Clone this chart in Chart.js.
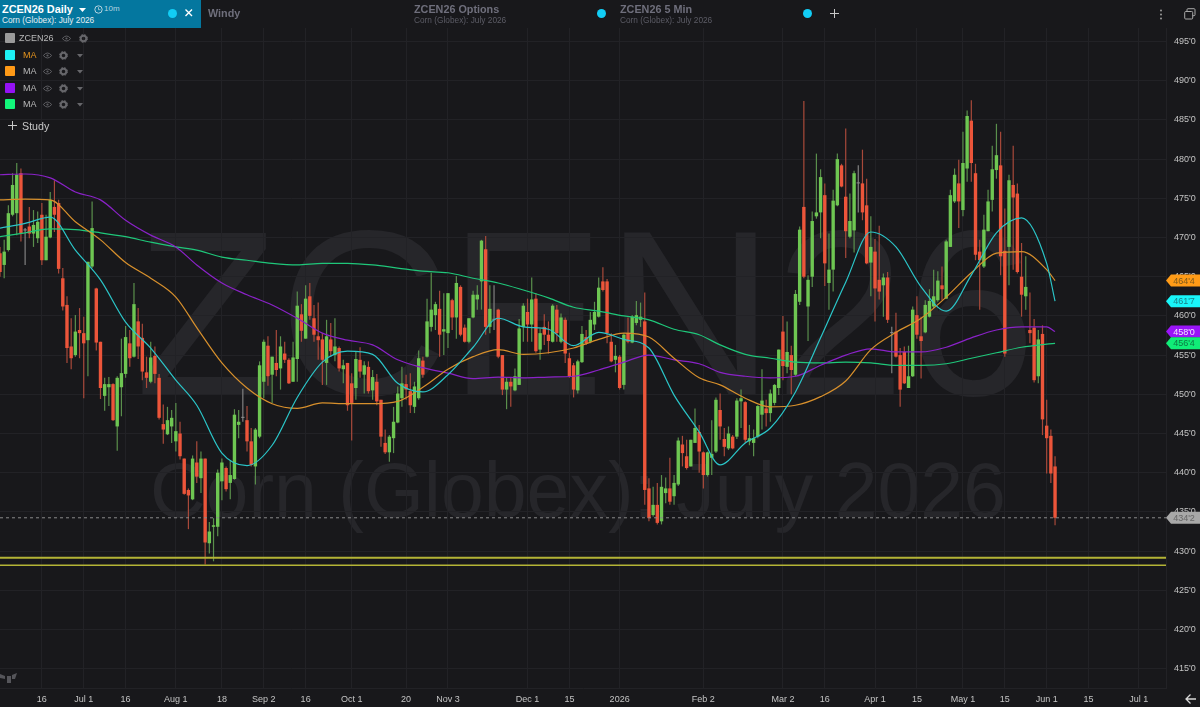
<!DOCTYPE html>
<html>
<head>
<meta charset="utf-8">
<title>ZCEN26 Daily</title>
<script src="https://cdn.jsdelivr.net/npm/chart.js@4/dist/chart.umd.min.js"></script>
<style>
	html, body { margin: 0; padding: 0; background: #18181b; overflow: hidden; }
	body, div { font-family: "Liberation Sans", Arial, sans-serif; }
	#wrap { position: relative; width: 1200px; height: 707px; overflow: hidden; }
	#wrap > canvas { position: absolute; left: 0; top: 0; z-index: 2; }
	.mark { position: absolute; color: #26262a; white-space: nowrap; line-height: 1; z-index: 1; }
	.abs { position: absolute; white-space: nowrap; z-index: 3; line-height: 1; }
	#tab { position: absolute; left: 0; top: 0; width: 201px; height: 28px; background: #04779f; z-index: 3; }
	.dot { position: absolute; width: 9px; height: 9px; border-radius: 50%; background: #12cdf5; z-index: 4; }
	.title { font-size: 10.8px; font-weight: bold; color: #6f6f7c; }
	.sub { font-size: 8.3px; color: #5c5c66; }
	.row { font-size: 9px; color: #b9b9b9; }
	.swatch { position: absolute; left: 5px; width: 10px; height: 10px; border-radius: 1px; z-index: 3; }
	svg.abs { overflow: visible; }
</style>
</head>
<body>
<div id="wrap">
	<div class="mark" style="left:135px;top:196px;font-size:235px">ZCEN26</div>
	<div class="mark" style="left:150px;top:452px;font-size:77px">Corn (Globex): July 2026</div>

	<div id="tab"></div>
	<div class="abs" style="left:2px;top:4px;font-size:10.9px;font-weight:bold;color:#fff">ZCEN26 Daily</div>
	<svg class="abs" style="left:79px;top:8px" width="8" height="5"><path d="M0 0H7L3.5 4Z" fill="#fff"/></svg>
	<svg class="abs" style="left:94px;top:5px" width="9" height="9"><circle cx="4.5" cy="4.5" r="3.7" fill="none" stroke="#b6d4e0"/><path d="M4.5 2.2V4.7H6.5" fill="none" stroke="#b6d4e0" stroke-width=".8"/></svg>
	<div class="abs" style="left:104px;top:5px;font-size:8px;color:#b6d4e0">10m</div>
	<div class="abs" style="left:2px;top:16px;font-size:8.3px;color:#e4eef2">Corn (Globex): July 2026</div>
	<div class="dot" style="left:168px;top:9px"></div>
	<svg class="abs" style="left:185px;top:9px" width="8" height="8"><path d="M.5 .5L7 7M7 .5L.5 7" stroke="#fff" stroke-width="1.4"/></svg>

	<div class="abs title" style="left:208px;top:8px">Windy</div>
	<div class="abs title" style="left:414px;top:4px">ZCEN26 Options</div>
	<div class="abs sub" style="left:414px;top:16px">Corn (Globex): July 2026</div>
	<div class="dot" style="left:597px;top:9px"></div>
	<div class="abs title" style="left:620px;top:4px">ZCEN26 5 Min</div>
	<div class="abs sub" style="left:620px;top:16px">Corn (Globex): July 2026</div>
	<div class="dot" style="left:803px;top:9px"></div>
	<svg class="abs" style="left:830px;top:9px" width="9" height="9"><path d="M4.5 0V9M0 4.5H9" stroke="#c8c8c8"/></svg>

	<svg class="abs" style="left:1159px;top:9px" width="4" height="11"><circle cx="2" cy="1.5" r="1" fill="#9a9a9a"/><circle cx="2" cy="5.5" r="1" fill="#9a9a9a"/><circle cx="2" cy="9.5" r="1" fill="#9a9a9a"/></svg>
	<svg class="abs" style="left:1184px;top:8px" width="12" height="12"><rect x="3" y=".7" width="8" height="7" rx="1" fill="none" stroke="#a8a8a8"/><rect x=".7" y="3.5" width="8" height="7.5" rx="1" fill="#18181b" stroke="#a8a8a8"/></svg>
	<svg class="abs" style="left:1185px;top:693px" width="12" height="12"><path d="M11 6H1M5.5 1.5L1 6L5.5 10.5" fill="none" stroke="#d8d8d8" stroke-width="1.3"/></svg>
	<svg class="abs" style="left:0;top:671px" width="18" height="14"><path d="M0 3L5 5V8L0 7ZM7 5H11V12H7ZM12 4L17 2L15 8H12Z" fill="#55555a"/></svg>

	<div class="abs" style="left:8px;top:121px;font-size:10.7px;color:#c8c8c8"><svg width="9" height="9" style="margin-right:5px"><path d="M4.5 0V9M0 4.5H9" stroke="#c8c8c8"/></svg>Study</div>
	<div id="legend"></div>

	<canvas id="chart"></canvas>
</div>

<script>
const tickIdx = [10, 20, 30, 42, 53, 63, 73, 84, 97, 107, 126, 136, 148, 168, 187, 197, 209, 219, 230, 240, 250, 260, 272];
const tickLabels = ['16', 'Jul 1', '16', 'Aug 1', '18', 'Sep 2', '16', 'Oct 1', '20', 'Nov 3', 'Dec 1', '15', '2026', 'Feb 2', 'Mar 2', '16', 'Apr 1', '15', 'May 1', '15', 'Jun 1', '15', 'Jul 1'];
const priceTicks = [495, 490, 485, 480, 475, 470, 465, 460, 455, 450, 445, 440, 435, 430, 425, 420, 415];
const priceLabels = ["495'0", "490'0", "485'0", "480'0", "475'0", "470'0", "465'0", "460'0", "455'0", "450'0", "445'0", "440'0", "435'0", "430'0", "425'0", "420'0", "415'0"];

// daily candles, one entry per session
const opens = [
	468.0, 466.5, 468.4, 472.9, 473.1, 478.2, 470.9, 471.4, 470.5, 469.9,
	472.9, 467.1, 470.0, 473.9, 474.4, 464.8, 461.4, 456.1, 455.0, 458.2,
	457.8, 456.9, 466.3, 463.5, 456.7, 449.8, 450.9, 451.3, 445.9, 450.9,
	452.6, 456.5, 454.8, 459.3, 457.2, 452.8, 451.6, 454.9, 452.1, 446.2,
	444.9, 445.9, 444.0, 445.0, 441.8, 437.8, 436.6, 441.3, 439.3, 441.8,
	431.0, 433.1, 433.1, 438.9, 440.6, 438.7, 439.2, 446.1, 447.0, 446.7,
	444.0, 440.8, 444.6, 451.6, 456.2, 452.5, 454.0, 453.3, 455.2, 454.4,
	451.6, 454.5,
	460.2, 457.1, 462.5, 459.7, 457.4, 457.0, 454.0, 457.0, 455.0, 455.9,
	453.2, 454.0, 451.4, 450.8, 454.4, 452.5, 453.5, 450.5, 451.6, 449.3,
	443.8, 442.6, 444.4, 446.4, 449.5, 451.3, 450.4, 448.4, 449.5, 454.3,
	454.8, 458.6, 460.1, 460.9, 458.0, 457.8, 462.0, 459.8, 463.7, 458.5,
	456.7, 459.8, 462.1, 464.4, 468.5, 458.6, 459.5, 460.8, 455.0, 450.6,
	451.6, 450.5, 451.2, 458.6, 460.5, 458.9, 462.2, 455.7, 458.6, 457.6,
	456.7, 460.8, 456.7, 459.5, 454.6, 453.7, 450.5,
	454.1, 457.3, 456.7, 458.9, 459.9, 464.4, 464.4, 456.7, 454.4, 454.8,
	451.2, 457.8, 456.6, 459.1, 459.5, 459.3, 438.0, 434.6, 435.9, 433.8,
	437.4, 438.0, 437.0, 438.5, 443.6, 442.1, 440.8, 443.8, 445.2, 442.6,
	439.7, 441.9, 442.7, 448.0, 444.3, 443.1, 444.6, 444.6, 449.1, 449.0,
	444.0, 443.8, 444.6, 447.4, 448.2, 447.6, 448.9, 450.8, 458.0, 453.5,
	455.0, 452.5, 461.8, 473.9, 461.2, 465.0, 472.7, 473.2, 475.4, 464.2,
	465.9, 474.1, 479.2, 475.2, 470.1, 470.9, 476.9, 476.9, 474.1, 466.8,
	468.2, 464.6, 463.9, 464.9, 457.8, 458.0, 455.0, 455.4, 450.8, 452.3,
	460.1, 457.4, 457.9, 459.9, 461.2, 462.0, 463.9, 462.2, 468.8, 474.6,
	476.9, 473.5, 478.8, 484.9, 478.2, 468.2, 466.3, 470.8, 474.8, 478.6,
	479.2, 468.3, 468.8, 476.7, 475.6, 465.0, 462.5, 458.2, 458.5, 452.3,
	457.7, 446.0, 444.7, 440.8,
];
const closes = [
	465.6, 468.2, 473.1, 476.7, 478.0, 470.5, 470.9, 470.5, 471.6, 472.0,
	467.1, 470.1, 474.8, 472.9, 466.0, 461.2, 455.9, 454.6, 458.0, 457.8,
	456.5, 466.9, 471.2, 456.6, 450.8, 451.3, 451.3, 446.7, 452.1, 452.7,
	457.3, 454.6, 461.5, 456.1, 452.9, 452.1, 454.7, 452.6, 447.0, 445.5,
	446.7, 447.0, 445.3, 442.1, 437.3, 437.1, 441.8, 439.5, 441.8, 431.1,
	432.5, 433.3, 440.0, 441.3, 437.9, 439.7, 447.4, 446.5, 447.0, 444.0,
	441.0, 445.5, 453.7, 456.7, 452.3, 454.8, 453.1, 456.1, 454.4, 451.4,
	454.7, 461.3,
	458.1, 462.2, 460.0, 457.6, 456.9, 454.4, 457.4, 455.5, 456.1, 453.3,
	453.7, 448.6, 448.9, 454.5, 452.9, 453.7, 450.4, 452.2, 449.1, 444.6,
	442.6, 444.6, 446.5, 450.1, 451.4, 450.6, 448.6, 451.0, 454.6, 452.5,
	459.3, 460.8, 461.5, 457.6, 458.3, 462.9, 459.8, 464.2, 457.6, 456.7,
	459.7, 462.7, 462.7, 469.6, 458.6, 460.9, 459.5, 454.8, 450.6, 451.6,
	451.0, 452.3, 458.4, 461.3, 458.9, 462.1, 455.5, 457.8, 457.6, 456.8,
	461.3, 457.8, 459.8, 455.2, 452.3, 450.6, 454.2,
	457.7, 456.5, 459.5, 460.5, 463.6, 463.3, 457.8, 454.2, 454.9, 450.8,
	457.6, 456.7, 459.9, 460.1, 459.9, 437.8, 434.2, 435.9, 433.6, 438.2,
	438.0, 436.3, 438.7, 444.1, 442.5, 440.6, 444.2, 445.7, 442.7, 439.7,
	442.6, 442.4, 449.3, 445.9, 443.3, 445.0, 443.1, 449.2, 449.5, 444.2,
	444.4, 444.4, 448.5, 449.2, 447.6, 450.1, 451.2, 455.7, 453.6, 455.4,
	453.1, 462.8, 471.0, 465.0, 464.6, 472.1, 473.2, 477.7, 466.7, 465.9,
	474.7, 480.0, 476.5, 470.8, 472.1, 478.2, 476.9, 473.2, 466.7, 468.8,
	463.5, 463.1, 464.9, 459.5, 457.8, 454.8, 450.6, 451.4, 452.3, 460.8,
	457.6, 456.8, 461.4, 461.9, 462.5, 464.5, 463.4, 469.5, 475.4, 478.0,
	474.6, 479.5, 485.5, 479.5, 467.8, 467.1, 471.0, 474.6, 478.7, 480.5,
	467.6, 455.2, 477.3, 475.1, 465.6, 462.7, 463.7, 457.8, 451.8, 457.0,
	446.8, 444.4, 439.9, 434.25,
];
const highs = [
	468.8, 469.7, 474.1, 478.2, 479.5, 478.8, 471.2, 473.9, 473.5, 473.3,
	474.4, 472.9, 475.8, 477.3, 474.8, 466.1, 462.5, 459.7, 460.1, 461.0,
	459.9, 466.9, 474.6, 463.6, 456.7, 452.1, 452.2, 451.4, 452.3, 457.1,
	458.7, 458.2, 464.2, 461.0, 459.0, 454.8, 456.7, 456.1, 452.6, 448.7,
	448.4, 448.0, 448.9, 446.5, 441.8, 438.0, 442.2, 444.0, 442.7, 441.8,
	433.7, 434.2, 440.4, 441.8, 440.8, 441.6, 448.1, 448.0, 450.7, 448.5,
	445.7, 445.7, 454.2, 457.0, 457.4, 454.8, 458.2, 457.4, 456.7, 454.6,
	456.7, 463.1,
	461.5, 463.9, 464.2, 461.4, 461.7, 457.8, 459.5, 459.1, 459.7, 456.1,
	454.4, 454.0, 452.7, 455.4, 456.0, 454.2, 454.2, 453.1, 452.6, 449.3,
	445.5, 444.8, 448.4, 451.0, 453.5, 452.5, 452.7, 451.6, 455.6, 454.8,
	462.2, 465.5, 461.8, 463.2, 462.9, 462.9, 462.2, 465.1, 463.9, 458.9,
	459.7, 463.2, 463.9, 469.7, 470.2, 463.9, 463.9, 460.9, 455.0, 452.1,
	452.1, 453.3, 459.6, 461.6, 462.2, 464.9, 462.9, 458.4, 460.2, 459.3,
	461.5, 461.4, 460.3, 459.8, 455.3, 454.0, 454.4,
	458.7, 458.2, 460.5, 461.8, 464.9, 466.2, 464.7, 457.8, 456.3, 455.0,
	457.8, 459.8, 460.1, 461.9, 461.7, 463.0, 439.3, 438.2, 438.7, 439.7,
	439.4, 441.9, 439.7, 444.5, 444.7, 444.2, 444.2, 448.2, 446.1, 442.7,
	442.7, 446.7, 449.6, 450.1, 445.7, 445.9, 444.8, 449.5, 450.6, 449.1,
	446.1, 445.5, 448.6, 453.2, 449.3, 450.6, 451.3, 455.7, 460.0, 459.3,
	456.2, 463.3, 471.4, 487.4, 465.2, 473.3, 480.7, 478.7, 476.9, 470.5,
	476.1, 480.7, 479.4, 483.9, 475.6, 478.5, 479.2, 481.2, 477.5, 472.7,
	469.8, 471.5, 465.4, 465.6, 458.6, 460.4, 455.9, 456.1, 456.2, 461.2,
	462.5, 459.9, 462.0, 463.4, 465.9, 465.7, 466.3, 469.7, 476.1, 478.8,
	479.9, 483.5, 486.2, 487.5, 479.4, 469.7, 472.9, 476.1, 481.7, 484.5,
	483.5, 473.7, 478.0, 481.7, 476.9, 469.3, 467.6, 463.0, 459.6, 458.2,
	458.8, 449.3, 445.5, 442.1,
];
const lows = [
	465.0, 464.8, 468.2, 472.7, 470.3, 469.5, 466.5, 469.9, 468.8, 469.3,
	466.5, 467.1, 469.9, 470.7, 465.4, 460.7, 454.0, 453.2, 454.8, 454.6,
	449.5, 452.3, 466.1, 455.6, 449.4, 447.9, 448.5, 446.6, 442.8, 447.2,
	452.1, 453.5, 454.7, 454.5, 451.8, 450.8, 451.4, 451.4, 446.8, 443.7,
	444.8, 443.8, 442.7, 441.7, 437.2, 432.8, 436.5, 438.7, 437.4, 428.3,
	429.7, 428.7, 431.9, 436.5, 437.6, 436.6, 439.1, 444.4, 446.5, 442.7,
	440.8, 438.5, 444.4, 449.5, 451.1, 448.9, 452.3, 450.6, 454.0, 451.3,
	451.6, 451.6,
	456.7, 457.1, 459.5, 456.7, 454.4, 451.2, 451.2, 454.8, 454.2, 452.9,
	451.4, 447.9, 444.1, 449.3, 452.1, 450.1, 450.1, 449.3, 448.6, 443.3,
	442.4, 441.4, 442.5, 446.3, 448.4, 449.3, 447.6, 447.6, 449.3, 452.1,
	454.7, 458.0, 458.2, 454.8, 455.0, 455.9, 458.2, 457.1, 457.4, 456.6,
	456.5, 459.7, 460.8, 460.8, 457.6, 457.8, 458.2, 454.6, 449.9, 448.1,
	448.4, 450.4, 451.2, 456.7, 456.7, 456.7, 455.3, 454.4, 456.3, 455.2,
	456.6, 456.7, 456.5, 454.0, 452.1, 449.6, 450.1,
	454.0, 456.3, 456.5, 458.2, 459.8, 463.1, 456.5, 454.1, 452.8, 450.6,
	450.6, 456.5, 456.5, 458.8, 458.6, 435.9, 433.8, 434.4, 433.4, 433.4,
	436.1, 435.9, 435.9, 438.3, 440.8, 440.4, 440.8, 443.8, 440.0, 438.0,
	439.5, 439.7, 442.5, 444.2, 442.1, 442.9, 443.0, 444.3, 445.7, 443.8,
	443.5, 442.1, 444.4, 445.5, 445.9, 446.5, 448.6, 449.9, 451.8, 452.7,
	450.0, 452.3, 461.4, 464.8, 456.8, 463.7, 472.4, 469.9, 463.8, 460.8,
	463.1, 474.0, 476.4, 467.4, 469.9, 468.1, 473.2, 472.2, 466.6, 462.5,
	459.3, 462.1, 459.9, 459.1, 452.7, 454.7, 448.4, 451.3, 450.8, 452.2,
	457.1, 452.0, 457.8, 459.8, 461.0, 461.8, 462.0, 462.2, 468.8, 474.4,
	471.2, 472.7, 477.1, 477.1, 467.1, 460.8, 466.1, 470.8, 473.3, 477.5,
	465.2, 454.8, 463.9, 465.9, 465.4, 459.9, 460.8, 456.5, 451.5, 451.4,
	444.8, 439.9, 438.7, 433.3,
];

// moving averages, read at these sessions
const maSessions = [0, 6, 12, 18, 24, 30, 36, 42, 47, 53, 59, 65, 71, 77, 83, 89, 95, 101, 107, 113, 119, 125, 131, 137, 143, 149, 155, 161, 167, 172, 178, 184, 190, 196, 202, 208, 214, 220, 226, 232, 238, 244, 250, 252];
const maCyan = [471.2, 471.8, 472.6, 468.4, 464.6, 459.2, 455.9, 451.8, 448.6, 442.5, 440.9, 443.5, 449.6, 454.1, 455.5, 455.1, 451.4, 450.3, 452.5, 456.0, 459.7, 458.6, 458.3, 456.2, 457.9, 457.0, 455.9, 449.9, 445.2, 441.0, 443.8, 445.7, 450.3, 457.2, 464.3, 470.7, 468.8, 463.7, 460.6, 465.2, 470.6, 472.5, 466.7, 461.875];
const maOrange = [474.8, 474.9, 474.8, 472.0, 469.7, 466.8, 464.8, 462.4, 458.5, 454.0, 450.8, 448.8, 448.2, 448.9, 448.8, 448.8, 449.1, 450.9, 453.2, 454.8, 455.7, 455.1, 455.3, 455.9, 457.0, 457.8, 457.3, 454.6, 452.1, 451.2, 449.5, 448.4, 448.6, 449.7, 451.7, 455.7, 457.9, 459.7, 462.4, 465.5, 468.0, 468.2, 465.9, 464.5];
const maPurple = [478.0, 478.1, 477.6, 475.8, 474.8, 472.2, 470.3, 468.8, 466.5, 464.2, 462.7, 461.4, 459.7, 457.8, 456.9, 456.3, 454.4, 453.4, 452.7, 452.0, 452.2, 452.1, 452.2, 452.3, 453.1, 454.1, 455.0, 454.4, 453.9, 452.8, 452.3, 452.1, 452.3, 453.7, 455.0, 455.8, 455.4, 455.4, 456.0, 457.2, 458.2, 458.6, 458.6, 458.0];
const maGreen = [470.1, 470.6, 471.1, 471.0, 470.6, 470.1, 469.4, 468.8, 468.4, 467.5, 467.1, 466.7, 466.5, 466.7, 466.7, 466.5, 466.1, 465.7, 465.5, 464.8, 464.2, 463.3, 462.3, 461.1, 460.6, 460.0, 459.5, 458.3, 457.6, 456.3, 455.1, 454.6, 454.1, 454.0, 454.1, 454.0, 453.7, 453.7, 453.9, 454.6, 455.3, 456.0, 456.4, 456.5];

const lastPrice = 434.25;
const levelUpper = 429.15;
const levelLower = 428.2;

const priceTags = [
	{ value: 464.5, text: "464'4", fill: '#ff9b17', color: '#7d5a1c' },
	{ value: 461.875, text: "461'7", fill: '#19f5f8', color: '#1a7f86' },
	{ value: 458, text: "458'0", fill: '#9a14f8', color: '#f2e6ff' },
	{ value: 456.5, text: "456'4", fill: '#10ed77', color: '#0d7a44' },
	{ value: lastPrice, text: "434'2", fill: '#a8a8a8', color: '#666666' },
];

const legendRows = [
	{ name: 'ZCEN26', swatch: '#9a9a9a', top: 33, x: 19, eye: 66, gear: 83 },
	{ name: 'MA', swatch: '#1ef0f5', top: 50, x: 23, eye: 47, gear: 63, caret: 80, color: '#e5941e' },
	{ name: 'MA', swatch: '#ff9a17', top: 66, x: 23, eye: 47, gear: 63, caret: 80 },
	{ name: 'MA', swatch: '#9512f5', top: 83, x: 23, eye: 47, gear: 63, caret: 80 },
	{ name: 'MA', swatch: '#12f57a', top: 99, x: 23, eye: 47, gear: 63, caret: 80 },
];

const legendBox = document.getElementById('legend');
legendRows.forEach((r) => {
	let html = `<div class="swatch" style="top:${r.top}px;background:${r.swatch}"></div>`;
	html += `<div class="abs row" style="left:${r.x}px;top:${r.top + 1}px;${r.color ? 'color:' + r.color : ''}">${r.name}</div>`;
	html += `<svg class="abs" style="left:${r.eye - 4}px;top:${r.top + 2}px" width="9" height="7"><path d="M.3 3.5Q4.5 -1.5 8.7 3.5Q4.5 8.5 .3 3.5Z" fill="none" stroke="#5e5e62"/><circle cx="4.5" cy="3.5" r="1.1" fill="#5e5e62"/></svg>`;
	html += `<svg class="abs" style="left:${r.gear - 4}px;top:${r.top + 1}px" width="9" height="9"><circle cx="4.5" cy="4.5" r="2.8" fill="none" stroke="#66666a" stroke-width="2"/><circle cx="4.5" cy="4.5" r="4" fill="none" stroke="#66666a" stroke-width="1" stroke-dasharray="1.6 1.6"/></svg>`;
	if (r.caret) html += `<svg class="abs" style="left:${r.caret - 3}px;top:${r.top + 4}px" width="6" height="4"><path d="M0 0H6L3 3.5Z" fill="#66666a"/></svg>`;
	legendBox.insertAdjacentHTML('beforeend', html);
});

const bodyColor = (i) => (closes[i] === opens[i] ? '#8f8f8f' : closes[i] > opens[i] ? '#6ec652' : '#ec553a');
const wickColor = (i) => (closes[i] === opens[i] ? '#808080' : closes[i] > opens[i] ? '#5a8f4c' : '#a8493a');

const xMax = 278.5;
const maLine = (data, color) => ({
	type: 'line',
	data: maSessions.map((x, i) => ({ x, y: data[i] })),
	borderColor: color,
	borderWidth: 1.2,
	pointRadius: 0,
	cubicInterpolationMode: 'monotone',
	order: 2,
});
const levelLine = (y, color, width, dash) => ({
	type: 'line',
	data: [{ x: 0, y }, { x: xMax, y }],
	borderColor: color,
	borderWidth: width,
	borderDash: dash || [],
	pointRadius: 0,
	order: 1,
});

const tagPlugin = {
	id: 'priceTags',
	afterDraw(chart) {
		const { ctx } = chart;
		const y = chart.scales.y;
		ctx.save();
		ctx.font = '9px "Liberation Sans", Arial, sans-serif';
		ctx.textBaseline = 'middle';
		ctx.textAlign = 'center';
		priceTags.forEach((t) => {
			const py = y.getPixelForValue(t.value);
			ctx.fillStyle = t.fill;
			ctx.beginPath();
			ctx.moveTo(1166, py);
			ctx.lineTo(1171, py - 6);
			ctx.lineTo(1200, py - 6);
			ctx.lineTo(1200, py + 6);
			ctx.lineTo(1171, py + 6);
			ctx.closePath();
			ctx.fill();
			ctx.fillStyle = t.color;
			ctx.fillText(t.text, 1184, py + 0.5);
		});
		ctx.restore();
	},
};

new Chart(document.getElementById('chart'), {
	type: 'bar',
	plugins: [tagPlugin],
	data: {
		datasets: [
			levelLine(levelUpper, '#b4b436', 2),
			levelLine(levelLower, '#b4b436', 1.5),
			levelLine(lastPrice, '#8a8a8a', 1, [3, 3]),
			maLine(maCyan, '#2bc6c9'),
			maLine(maOrange, '#d8902c'),
			maLine(maPurple, '#8a22c8'),
			maLine(maGreen, '#1fc77a'),
			{
				data: opens.map((o, i) => ({ x: i, y: [o, closes[i]] })),
				backgroundColor: opens.map((o, i) => bodyColor(i)),
				barThickness: 3.4,
				minBarLength: 1,
				inflateAmount: 0,
				grouped: false,
				order: 3,
			},
			{
				data: lows.map((l, i) => ({ x: i, y: [l, highs[i]] })),
				backgroundColor: lows.map((l, i) => wickColor(i)),
				barThickness: 1.2,
				inflateAmount: 0,
				grouped: false,
				order: 4,
			},
		],
	},
	options: {
		responsive: true,
		maintainAspectRatio: false,
		animation: false,
		layout: { padding: { top: 28 } },
		plugins: { legend: { display: false }, tooltip: { enabled: false } },
		scales: {
			x: {
				type: 'linear',
				min: 0,
				max: xMax,
				offset: false,
				grid: { color: '#222226', offset: false, drawTicks: false },
				border: { color: '#222226' },
				afterBuildTicks: (scale) => {
					scale.ticks = tickIdx.map((value) => ({ value }));
				},
				afterFit: (scale) => {
					scale.height = 19;
				},
				ticks: {
					autoSkip: false,
					maxRotation: 0,
					padding: 6,
					color: '#c4c4c4',
					font: { family: '"Liberation Sans", Arial, sans-serif', size: 9 },
					callback: (value, index) => tickLabels[index],
				},
			},
			y: {
				position: 'right',
				min: 412.54,
				max: 496.72,
				grid: { color: '#222226', drawTicks: false },
				border: { color: '#222226' },
				afterBuildTicks: (scale) => {
					scale.ticks = priceTicks.map((value) => ({ value }));
				},
				afterFit: (scale) => {
					scale.width = 34;
				},
				ticks: {
					padding: 8,
					color: '#c4c4c4',
					font: { family: '"Liberation Sans", Arial, sans-serif', size: 9 },
					callback: (value, index) => priceLabels[index],
				},
			},
		},
	},
});
</script>
</body>
</html>
